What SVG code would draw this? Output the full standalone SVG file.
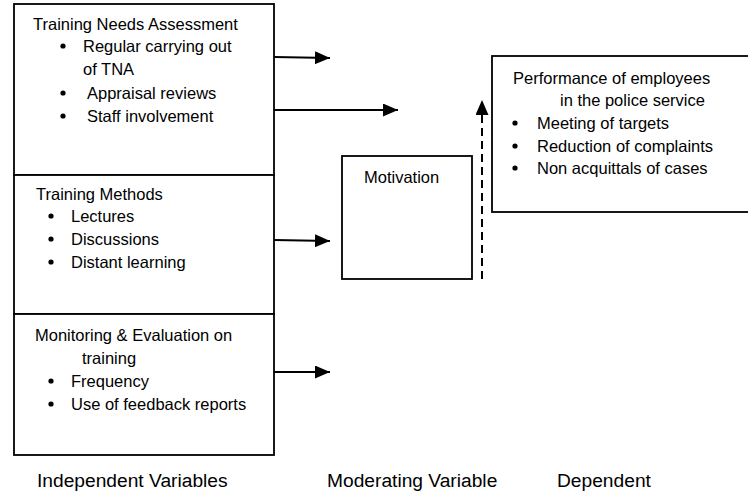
<svg xmlns="http://www.w3.org/2000/svg" width="748" height="493" viewBox="0 0 748 493">
  <style>
    .box { fill: #fff; stroke: #000; stroke-width: 1.8; }
    .t { font-family: "Liberation Sans", Arial, sans-serif; font-size: 16.5px; fill: #000; }
    .lbl { font-family: "Liberation Sans", Arial, sans-serif; font-size: 19.2px; fill: #000; }
    .edge { stroke: #000; stroke-width: 2; fill: none; }
    .dash { stroke: #000; stroke-width: 2; fill: none; stroke-dasharray: 8 5; }
  </style>
  <defs>
    <marker id="head" viewBox="0 0 15 13" refX="15" refY="6.5" markerWidth="7.5" markerHeight="6.5" markerUnits="strokeWidth" orient="auto">
      <path d="M0,0 L15,6.5 L0,13 Z" fill="#000"/>
    </marker>
  </defs>
  <rect width="748" height="493" fill="#fff"/>

  <!-- independent variables -->
  <g id="tna">
    <rect class="box" x="14" y="4" width="260" height="171"/>
    <text class="t" x="33" y="30">Training Needs Assessment</text>
    <circle cx="63" cy="46" r="2.6"/>
    <text class="t" x="83" y="52">Regular carrying out</text>
    <text class="t" x="83" y="75">of TNA</text>
    <circle cx="63" cy="93" r="2.6"/>
    <text class="t" x="87" y="99">Appraisal reviews</text>
    <circle cx="63" cy="116" r="2.6"/>
    <text class="t" x="87" y="122">Staff  involvement</text>
  </g>

  <g id="methods">
    <rect class="box" x="14" y="175" width="260" height="139"/>
    <text class="t" x="36" y="200">Training Methods</text>
    <circle cx="51" cy="216" r="2.6"/>
    <text class="t" x="71" y="222">Lectures</text>
    <circle cx="51" cy="239" r="2.6"/>
    <text class="t" x="71" y="245">Discussions</text>
    <circle cx="51" cy="262" r="2.6"/>
    <text class="t" x="71" y="268">Distant learning</text>
  </g>

  <g id="monitoring">
    <rect class="box" x="14" y="314" width="260" height="141"/>
    <text class="t" x="35" y="341">Monitoring &amp; Evaluation on</text>
    <text class="t" x="82" y="364">training</text>
    <circle cx="51" cy="381" r="2.6"/>
    <text class="t" x="71" y="387">Frequency</text>
    <circle cx="51" cy="404" r="2.6"/>
    <text class="t" x="71" y="410">Use of feedback reports</text>
  </g>

  <!-- moderating variable -->
  <g id="motivation">
    <rect class="box" x="342" y="156" width="130" height="123"/>
    <text class="t" x="364" y="183">Motivation</text>
  </g>

  <!-- dependent variable -->
  <g id="performance">
    <rect class="box" x="492" y="56" width="262" height="156"/>
    <text class="t" x="513" y="84">Performance of employees</text>
    <text class="t" x="560" y="106">in the police service</text>
    <circle cx="515" cy="123" r="2.6"/>
    <text class="t" x="537" y="129">Meeting of targets</text>
    <circle cx="515" cy="146" r="2.6"/>
    <text class="t" x="537" y="152">Reduction of complaints</text>
    <circle cx="515" cy="168" r="2.6"/>
    <text class="t" x="537" y="174">Non acquittals of cases</text>
  </g>

  <!-- connectors -->
  <g id="connectors">
    <line class="edge" x1="274" y1="57" x2="330" y2="58" marker-end="url(#head)"/>
    <line class="edge" x1="274" y1="110" x2="398" y2="110" marker-end="url(#head)"/>
    <line class="edge" x1="274" y1="240" x2="330" y2="241" marker-end="url(#head)"/>
    <line class="edge" x1="274" y1="372" x2="330" y2="372" marker-end="url(#head)"/>
    <line class="dash" x1="482" y1="279" x2="482" y2="100" marker-end="url(#head)"/>
  </g>

  <!-- column captions -->
  <g id="captions">
    <text class="lbl" x="37" y="487">Independent Variables</text>
    <text class="lbl" x="327" y="487">Moderating Variable</text>
    <text class="lbl" x="557" y="487">Dependent</text>
  </g>
</svg>
